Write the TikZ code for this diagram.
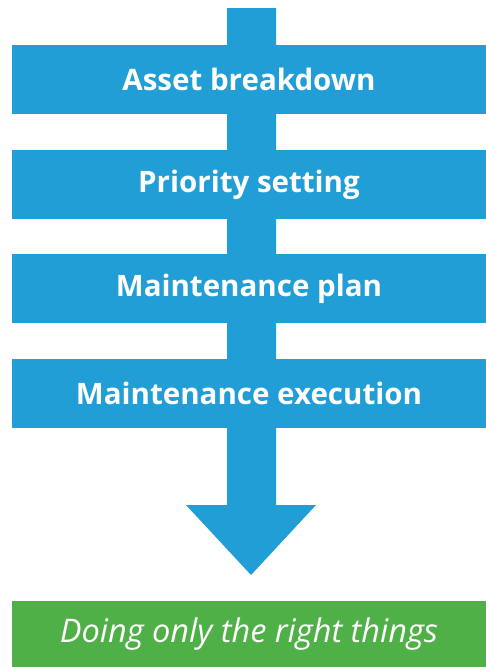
\documentclass[tikz,border=0pt]{standalone}
\usepackage{fontspec}
\setmainfont{Open Sans}
\definecolor{flowblue}{RGB}{33,158,214}
\definecolor{goalgreen}{RGB}{80,176,72}
\tikzset{
  band/.style={fill=flowblue, text=white, font=\fontsize{16.8}{19}\selectfont\bfseries,
    minimum width=9.48cm, minimum height=1.38cm, inner sep=0pt},
  goalbox/.style={fill=goalgreen, text=white, font=\fontsize{18.5}{21}\selectfont\itshape,
    minimum width=9.48cm, minimum height=1.32cm, inner sep=0pt}
}
\begin{document}
\begin{tikzpicture}[x=0.02cm, y=-0.02cm]
    \useasboundingbox (0,0) rectangle (486,667);

    % the arrow
    \coordinate (top) at (251.5,8);
    \coordinate (tip) at (251,575);
    \fill[flowblue] (227,8) -- (276,8) -- (276,505) -- (316,505)
    -- (tip) -- (186,505) -- (227,505) -- cycle;

    \node[band] (asset) at (249,79.5) {Asset breakdown};
    \node[band] (prio) at (249,184.5) {Priority setting};
    \node[band] (plan) at (249,288.5) {Maintenance plan};
    \node[band] (exec) at (249,393.5) {Maintenance execution};

    \node[goalbox] (goal) at (249,634) {Doing only the right things};
\end{tikzpicture}
\end{document}
